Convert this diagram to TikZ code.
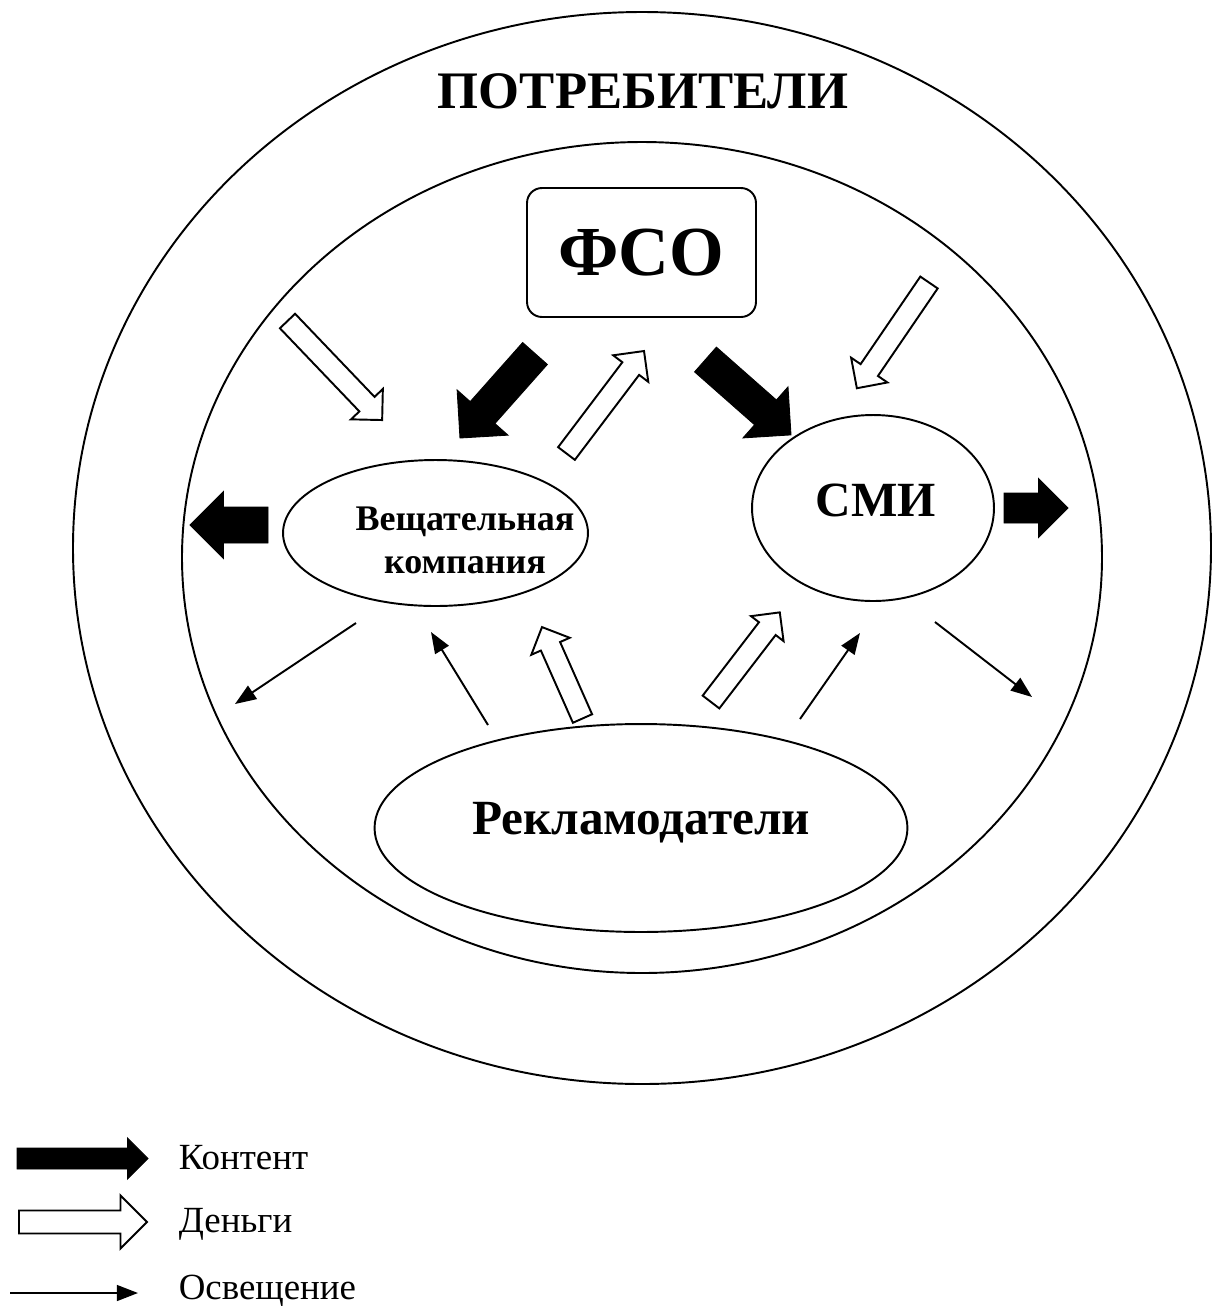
\documentclass[tikz,border=0pt]{standalone}
\usepackage{fontspec}
\setmainfont{Liberation Serif}
\usetikzlibrary{shapes.geometric,arrows.meta}

% block arrow: style, tail, angle, length, shaft width, head width
\newcommand{\fatarrow}[6]{%
  \begin{scope}[shift={#2},rotate=#3]
    \draw[#1] (0,-#5/2)--(#4-#6/2,-#5/2)--(#4-#6/2,-#6/2)--(#4,0)--(#4-#6/2,#6/2)--(#4-#6/2,#5/2)--(0,#5/2)--cycle;
  \end{scope}}

\begin{document}
\begin{tikzpicture}[x=0.02cm,y=-0.02cm,line width=1.1pt,
    ell/.style={draw,ellipse,inner sep=0pt},
    kontent/.style={draw=black,fill=black,line width=0.5pt,line join=miter},
    dengi/.style={draw=black,fill=white,line width=1.1pt,line join=miter},
    osv/.style={-{Triangle[length=12pt,width=9pt]},line width=1.1pt}]
                \useasboundingbox (0,0) rectangle (1212,1306);
                \draw (642,548) ellipse [x radius=569,y radius=536];
                \draw (642,557.5) ellipse [x radius=460,y radius=415.5];
                \node[font=\bfseries\fontsize{30}{36}\selectfont,anchor=base] (potr) at (643,108) {ПОТРЕБИТЕЛИ};
                \node[draw,rounded corners=8.5pt,minimum width=4.58cm,minimum height=2.58cm,
                    font=\bfseries\fontsize{40}{44}\selectfont] (fso) at (641.5,252.5) {ФСО};
                \node[ell,minimum width=6.1cm,minimum height=2.92cm] (vk) at (435.5,533) {};
                \node[font=\bfseries\fontsize{20.5}{24.5}\selectfont,align=center] (vktext) at (465,540) {Вещательная\\компания};
                \node[ell,minimum width=4.84cm,minimum height=3.72cm] (smi) at (873,508) {};
                \node[font=\bfseries\fontsize{28}{32}\selectfont] (smitext) at (876,500) {СМИ};
                \node[ell,minimum width=10.66cm,minimum height=4.16cm,
                    font=\bfseries\fontsize{28}{32}\selectfont] (rekl) at (641,828) {};
                \node[font=\bfseries\fontsize{28}{32}\selectfont] (rekltext) at (641,823) {Рекламодатели};
                % content
                \fatarrow{kontent}{(535,353.5)}{-131.6}{113}{33}{68}
                \fatarrow{kontent}{(705.5,359.5)}{-41.4}{114}{33}{68}
                \fatarrow{kontent}{(268,525)}{180}{78}{36}{67}
                \fatarrow{kontent}{(1004,508)}{0}{64}{30}{59}
                % money
                \fatarrow{dengi}{(287.5,321)}{-46.3}{137}{21}{44}
                \fatarrow{dengi}{(566.5,453.5)}{52.9}{128.5}{21}{44}
                \fatarrow{dengi}{(929,282.5)}{-124.3}{128}{21}{44}
                \fatarrow{dengi}{(582.5,718.5)}{113.9}{100}{21}{42}
                \fatarrow{dengi}{(711,702)}{52.5}{113}{21}{41}
                % coverage
                \coordinate (vk-a) at (356,623);
                \coordinate (vk-b) at (235,704);
                \coordinate (rv-a) at (488,725);
                \coordinate (rv-b) at (431,632);
                \coordinate (rs-a) at (800,719);
                \coordinate (rs-b) at (860,633);
                \coordinate (smi-a) at (935,622);
                \coordinate (smi-b) at (1032,697);
                \draw[osv] (vk-a)--(vk-b);
                \draw[osv] (rv-a)--(rv-b);
                \draw[osv] (rs-a)--(rs-b);
                \draw[osv] (smi-a)--(smi-b);
                % legend
                \fatarrow{kontent}{(17,1158.5)}{0}{131}{21}{41}
                \fatarrow{dengi}{(19,1222)}{0}{128}{23}{53}
                \coordinate (leg-a) at (10,1293);
                \coordinate (leg-b) at (138,1293);
                \draw[osv] (leg-a)--(leg-b);
                \node[font=\fontsize{21}{25}\selectfont,anchor=west] (leg-k) at (172,1158) {Контент};
                \node[font=\fontsize{21}{25}\selectfont,anchor=west] (leg-d) at (172,1224) {Деньги};
                \node[font=\fontsize{21}{25}\selectfont,anchor=west] (leg-o) at (172,1291) {Освещение};
            \end{tikzpicture}
\end{document}
